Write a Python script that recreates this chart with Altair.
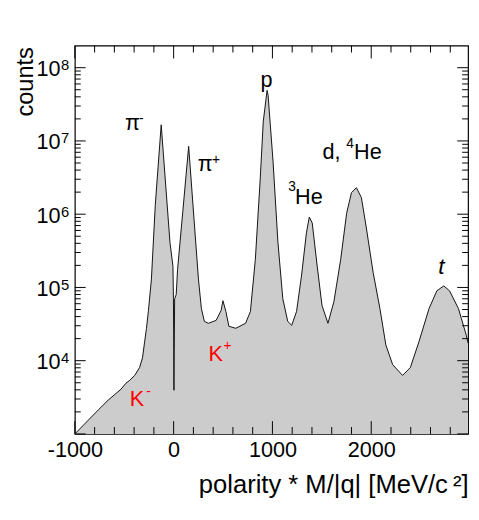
import altair as alt
import pandas as pd

# ---- histogram outline (polarity * M/|q| in MeV/c^2, counts) ----
x_mev = [-1000, -762, -662, -533, -484, -444, -394, -345, -315, -295, -275, -255, -225,
         -186, -126, -37, -7, -2, 3, 10, 26, 40, 152, 251, 281, 311, 351, 430, 480, 499,
         529, 559, 629, 728, 777, 827, 877, 907, 946, 956, 1006, 1056, 1105, 1155, 1195,
         1244, 1294, 1344, 1373, 1403, 1453, 1502, 1562, 1622, 1691, 1751, 1800, 1850,
         1900, 1949, 2019, 2088, 2148, 2217, 2317, 2396, 2485, 2585, 2664, 2734, 2793,
         2883, 2962, 2980]
counts = [1000, 2130, 2900, 4080, 4910, 5400, 6300, 8050, 10960, 17500, 27700, 48400, 130000,
          1320000, 16600000, 408000, 195000, 70000, 3950, 70000, 80000, 177000, 8430000,
          130000, 51400, 34400, 32400, 35500, 48400, 65900, 46900, 29500, 27700, 32400, 46900,
          242000, 3140000, 18300000, 49100000, 42100000, 5310000, 408000, 70200, 34400, 30400,
          46900, 143000, 556000, 912000, 757000, 195000, 56500, 32400, 63800, 242000, 1030000,
          1970000, 2300000, 1690000, 670000, 161000, 51400, 16400, 8830, 6300, 8050, 18500,
          51400, 89800, 105000, 89800, 51400, 22300, 17400]

# ---- annotations (main text) ----
ann_text = ["π", "π", "p", "He", "d,", "He", "K", "K"]
ann_x = [-493, 244, 940, 1229, 1507, 1826, -443, 353]
ann_y = [1.41e7, 3.84e6, 5.47e7, 1.38e6, 5.73e6, 5.73e6, 2380, 9840]
ann_color = ["black", "black", "black", "black", "black", "black", "red", "red"]
ann_align = ["left", "left", "center", "left", "left", "left", "left", "left"]

# ---- annotations (superscripts) ----
sup_text = ["-", "+", "3", "4", "-", "+"]
sup_x = [-350, 388, 1159, 1746, -276, 505]
sup_y = [1.75e7, 4.91e6, 2.07e6, 8.05e6, 3340, 13800]
sup_color = ["black", "black", "black", "black", "red", "red"]

# italic t
t_text = ["t"]
t_x = [2711]
t_y = [1.54e5]

# ---- axes ----
x_major = [-1000, 0, 1000, 2000]
x_minor = [-800, -600, -400, -200, 200, 400, 600, 800, 1200, 1400, 1600, 1800,
           2200, 2400, 2600, 2800]
y_major = [1e3, 1e4, 1e5, 1e6, 1e7, 1e8]
y_minor = [k * 10 ** d for d in range(3, 8) for k in range(2, 10)]
y_labels = [1e4, 1e5, 1e6, 1e7, 1e8]
y_exps = ["4", "5", "6", "7", "8"]

W, H = 400, 395
FONT = "Liberation Sans"

xscale = alt.Scale(domain=[-1000, 2980], nice=False, zero=False)
yscale = alt.Scale(type="log", domain=[1000, 2e8], nice=False)

xaxis = alt.Axis(values=x_major, labelExpr="'' + datum.value", labelFontSize=22,
                 labelFont=FONT, labelPadding=6,
                 labelFlush=False, ticks=False, tickSize=0, domain=False, grid=False,
                 labelColor="black",
                 title="polarity * M/|q| [MeV/c\u2009²]", titleFont=FONT, titleFontSize=26,
                 titleFontWeight="normal", titleX=W, titleY=60, titleAlign="right",
                 titleAnchor="end", titleBaseline="alphabetic", titleColor="black")
yaxis = alt.Axis(values=y_labels, labelExpr="'10'", labelFontSize=22, labelFont=FONT,
                 labelPadding=15, labelFlush=False, ticks=False, tickSize=0, domain=False,
                 grid=False, labelBaseline="middle", labelOffset=1, labelColor="black",
                 title="counts", titleFont=FONT, titleFontSize=24, titleFontWeight="normal",
                 titleAngle=270, titleX=-43, titleY=1, titleAlign="right",
                 titleBaseline="alphabetic", titleColor="black")


def X(field):
    return alt.X(field, type="quantitative", scale=xscale, axis=xaxis)


def Y(field):
    return alt.Y(field, type="quantitative", scale=yscale, axis=yaxis)


hist = pd.DataFrame({"x": x_mev, "y": counts, "base": [1000] * len(x_mev)})

area = alt.Chart(hist).mark_area(color="#cccccc", clip=True).encode(
    x=X("x"), y=Y("y"), y2="base:Q")
line = alt.Chart(hist).mark_line(color="#111111", strokeWidth=1, clip=True).encode(
    x=X("x"), y=Y("y"))


# ticks (inside, all four sides)
def yticks(vals, length):
    df = pd.DataFrame({"v": vals})
    left = alt.Chart(df).mark_rule(color="black", strokeWidth=1).encode(
        y=Y("v"), x=alt.value(0), x2=alt.value(length))
    right = alt.Chart(df).mark_rule(color="black", strokeWidth=1).encode(
        y=Y("v"), x=alt.value(W - length), x2=alt.value(W))
    return [left, right]


def xticks(vals, length):
    df = pd.DataFrame({"v": vals})
    bottom = alt.Chart(df).mark_rule(color="black", strokeWidth=1).encode(
        x=X("v"), y=alt.value(H - length), y2=alt.value(H))
    top = alt.Chart(df).mark_rule(color="black", strokeWidth=1).encode(
        x=X("v"), y=alt.value(0), y2=alt.value(length))
    return [bottom, top]


tick_layers = yticks(y_major, 11) + yticks(y_minor, 6) + xticks(x_major, 13) + xticks(x_minor, 7)

# y-axis exponents
exp_df = pd.DataFrame({"v": y_labels, "t": y_exps})
exps = alt.Chart(exp_df).mark_text(font=FONT, fontSize=15, align="left", baseline="alphabetic",
                                   dy=2.5, color="black").encode(
    y=Y("v"), x=alt.value(-14), text="t:N")

ann_df = pd.DataFrame({"x": ann_x, "y": ann_y, "t": ann_text, "c": ann_color, "a": ann_align})
ann_left = alt.Chart(ann_df[ann_df["a"] == "left"]).mark_text(
    font=FONT, fontSize=22, align="left", baseline="alphabetic").encode(
    x=X("x"), y=Y("y"), text="t:N", color=alt.Color("c:N", scale=None))
ann_center = alt.Chart(ann_df[ann_df["a"] == "center"]).mark_text(
    font=FONT, fontSize=22, align="center", baseline="alphabetic").encode(
    x=X("x"), y=Y("y"), text="t:N", color=alt.Color("c:N", scale=None))

sup_df = pd.DataFrame({"x": sup_x, "y": sup_y, "t": sup_text, "c": sup_color})
sups = alt.Chart(sup_df).mark_text(font=FONT, fontSize=14, align="left",
                                   baseline="alphabetic").encode(
    x=X("x"), y=Y("y"), text="t:N", color=alt.Color("c:N", scale=None))

t_df = pd.DataFrame({"x": t_x, "y": t_y, "t": t_text})
t_lab = alt.Chart(t_df).mark_text(font=FONT, fontSize=23, fontStyle="italic", align="center",
                                  baseline="alphabetic", color="black").encode(
    x=X("x"), y=Y("y"), text="t:N")

chart = alt.layer(area, line, *tick_layers, exps, ann_left, ann_center, sups, t_lab).properties(
    width=W, height=H,
    autosize=alt.AutoSizeParams(type="none"),
    padding={"left": 68, "top": 34, "right": 3, "bottom": 68},
    background="white",
).configure_view(stroke="black", strokeWidth=1.2)

chart.save("out.html", embed_options={"renderer": "svg", "actions": False})
